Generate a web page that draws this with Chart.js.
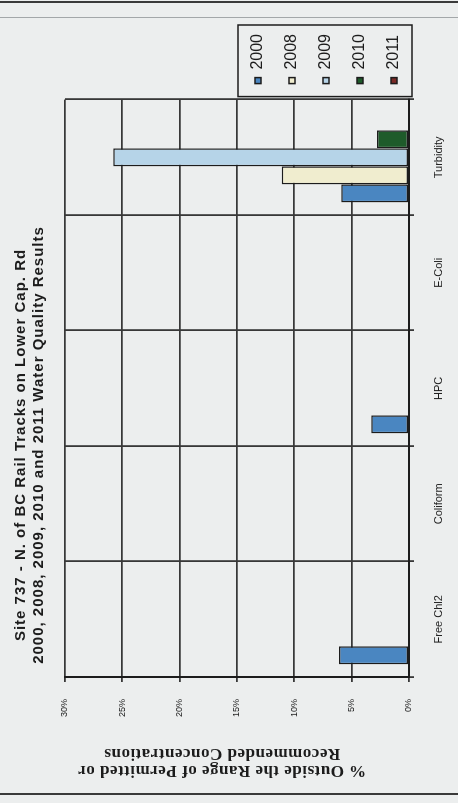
<!DOCTYPE html>
<html>
<head>
<meta charset="utf-8">
<title>Site 737 Water Quality Results</title>
<script src="https://cdn.jsdelivr.net/npm/chart.js@4.4.0/dist/chart.umd.min.js"></script>
<style>
  html, body { margin: 0; padding: 0; }
  body { width: 458px; height: 803px; background: #eceeee; position: relative; overflow: hidden; }
  .rule { position: absolute; left: 0; width: 458px; }
  #topRule { top: 1px; height: 2px; background: #3a3a3a; }
  #subRule { top: 17px; height: 1px; background: #a3a7a9; }
  #bottomRule { top: 793px; height: 2px; background: #3a3a3a; }
  /* the report page has the chart turned on its side */
  #sheet { position: absolute; left: 0; top: 0; width: 803px; height: 458px;
           transform-origin: 0 0; transform: translate(0, 803px) rotate(-90deg); }
</style>
</head>
<body>
<div class="rule" id="topRule"></div>
<div class="rule" id="subRule"></div>
<div class="rule" id="bottomRule"></div>
<div id="sheet"><canvas id="chart1" width="803" height="458"></canvas></div>

<script>
// DATA - % of samples outside the permitted / recommended range
const categories = ["Free Chl2", "Coliform", "HPC", "E-Coli", "Turbidity"];
const years = ["2000", "2008", "2009", "2010", "2011"];
const pct2000 = [6.1, 0, 3.3, 0, 5.9];
const pct2008 = [0, 0, 0, 0, 11.1];
const pct2009 = [0, 0, 0, 0, 25.8];
const pct2010 = [0, 0, 0, 0, 2.8];
const pct2011 = [0, 0, 0, 0, 0];
const yTicks = [0, 5, 10, 15, 20, 25, 30];

const titleLines = ["Site 737 - N. of BC Rail Tracks on Lower Cap. Rd",
                    "2000, 2008, 2009, 2010 and 2011 Water Quality Results"];
const yTitleLines = ["% Outside the Range of Permitted or", "Recommended Concentrations"];

const barColors = ["#4a86c1", "#f0edcf", "#b6d4e8", "#1e5b2a", "#7b2a26"];
const seriesValues = [pct2000, pct2008, pct2009, pct2010, pct2011];

const ink = "#1c1c1c";
const gridInk = "#383838";
const sans = '"Liberation Sans", Arial, sans-serif';
const serif = '"Liberation Serif", "Times New Roman", serif';

// TITLES - chart heading on top, value axis caption down the left side
const titleBlock = {
  id: "titleBlock",
  afterDraw(chart) {
    const ctx = chart.ctx;
    ctx.save();
    ctx.fillStyle = ink;
    ctx.textAlign = "center";
    ctx.textBaseline = "middle";
    ctx.font = "bold 15px " + sans;
    if ("letterSpacing" in ctx) ctx.letterSpacing = "1px";
    ctx.fillText(titleLines[0], 358, 21);
    ctx.fillText(titleLines[1], 358, 39);

    ctx.font = "bold 17px " + serif;
    if ("letterSpacing" in ctx) ctx.letterSpacing = "0.5px";
    yTitleLines.forEach((line, i) => {
      ctx.save();
      ctx.translate(33 + i * 17, 222);
      ctx.rotate(-Math.PI / 2);
      ctx.fillText(line, 0, 0);
      ctx.restore();
    });
    ctx.restore();
  }
};

// LEGEND - drop it level with the base of the plot and box it in
const legendFrame = {
  id: "legendFrame",
  afterLayout(chart) {
    const lg = chart.legend;
    lg.top += 11;
    lg.bottom += 11;
    lg.left -= 2;
    lg.right -= 2;
  },
  afterDraw(chart) {
    const boxes = chart.legend.legendHitBoxes;
    if (!boxes || !boxes.length) return;
    const left = Math.min(...boxes.map(b => b.left)) - 13;
    const right = Math.max(...boxes.map(b => b.left + b.width)) + 9;
    const top = Math.min(...boxes.map(b => b.top)) - 12;
    const bottom = Math.max(...boxes.map(b => b.top + b.height)) + 10;
    const ctx = chart.ctx;
    ctx.save();
    ctx.strokeStyle = ink;
    ctx.lineWidth = 1.5;
    ctx.strokeRect(left, top, right - left, bottom - top);
    ctx.restore();
  }
};

new Chart(document.getElementById("chart1"), {
  type: "bar",
  data: {
    labels: categories,
    datasets: years.map((yr, i) => ({
      label: yr,
      data: seriesValues[i],
      backgroundColor: barColors[i],
      borderColor: ink,
      borderWidth: 1.5,
      borderSkipped: false,
      barPercentage: 1,
      categoryPercentage: 0.78
    }))
  },
  options: {
    responsive: false,
    animation: false,
    devicePixelRatio: 1,
    layout: { padding: { left: 19, top: 65, right: 22, bottom: 14 } },
    plugins: {
      title: { display: false },
      tooltip: { enabled: false },
      legend: {
        position: "right",
        align: "end",
        fullSize: false,
        labels: {
          font: { family: sans, size: 16 },
          color: ink,
          boxWidth: 6,
          boxHeight: 6,
          padding: 18
        }
      }
    },
    scales: {
      x: {
        grid: { color: gridInk, lineWidth: 1.8, tickLength: 5, offset: true },
        border: { color: ink, width: 2 },
        ticks: { font: { family: sans, size: 11 }, color: ink, padding: 18, maxRotation: 0 },
        afterFit: axis => { axis.height = 35; }
      },
      y: {
        min: yTicks[0],
        max: yTicks[yTicks.length - 1],
        afterBuildTicks: axis => { axis.ticks = yTicks.map(v => ({ value: v })); },
        grid: { color: gridInk, lineWidth: 1.8, tickLength: 5 },
        border: { color: ink, width: 2 },
        ticks: { font: { family: sans, size: 9 }, color: ink, padding: 17, callback: v => v + "%" },
        afterFit: axis => { axis.width = 107; }
      }
    }
  },
  plugins: [titleBlock, legendFrame]
});
</script>
</body>
</html>
